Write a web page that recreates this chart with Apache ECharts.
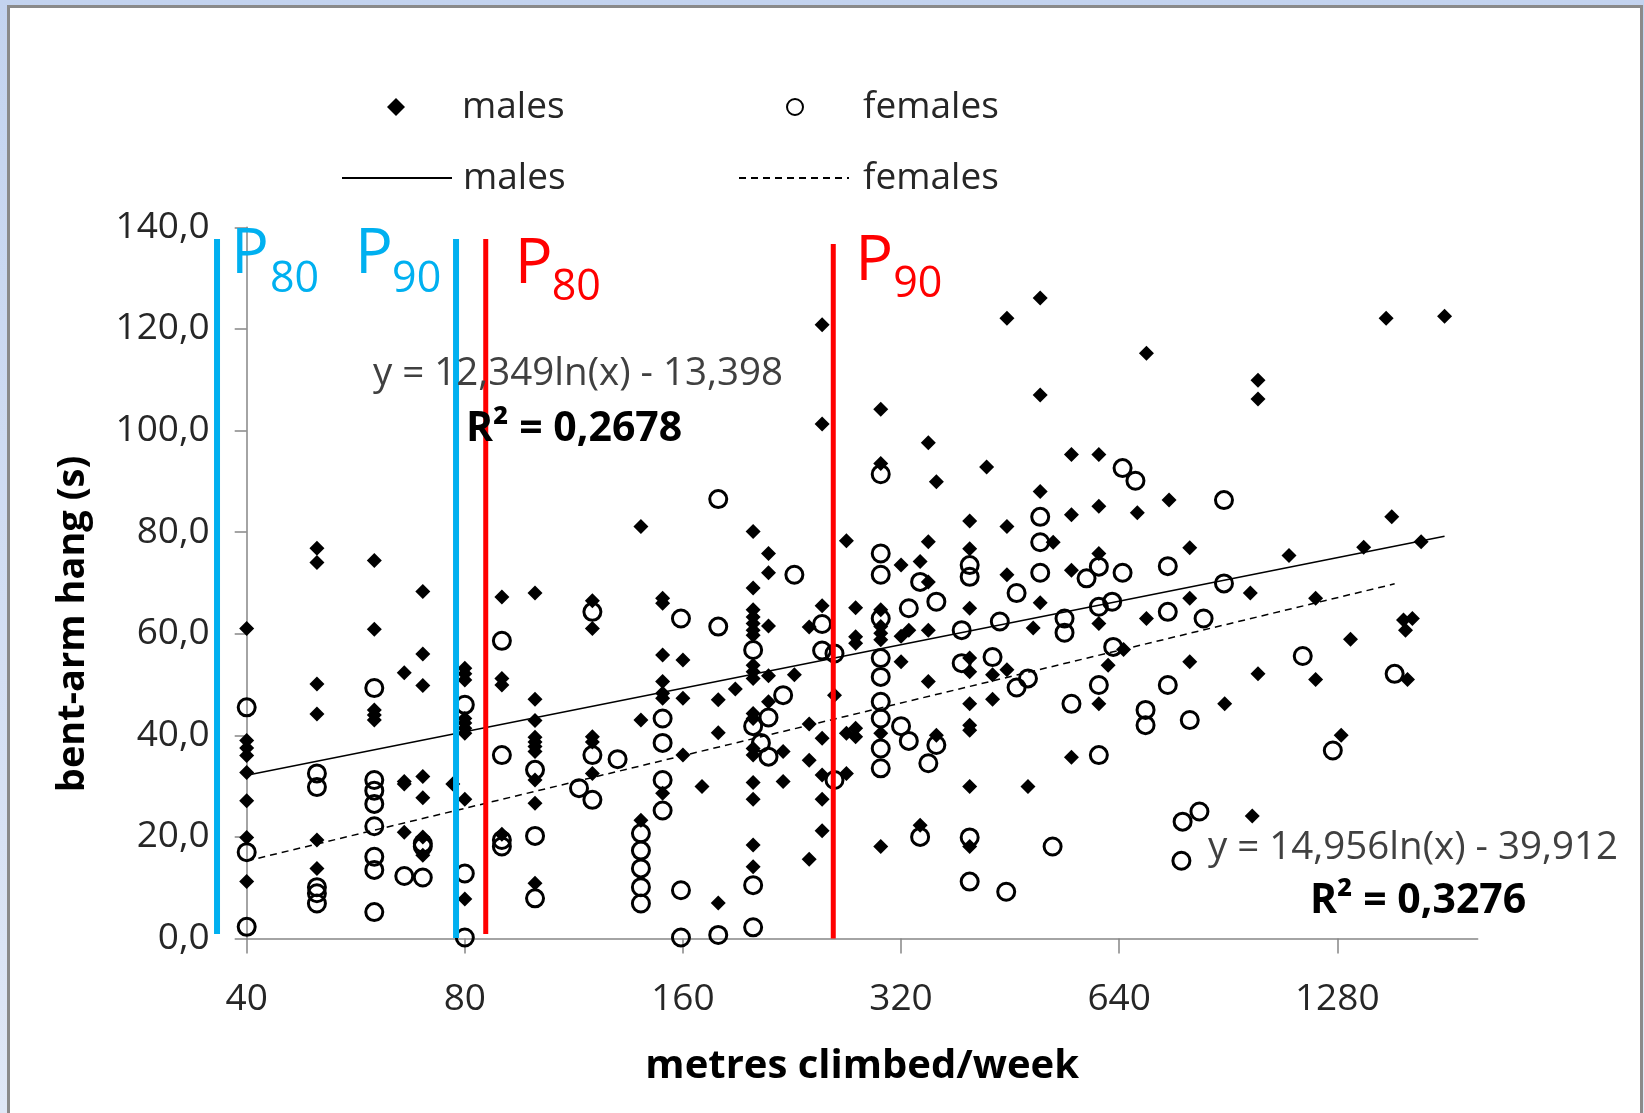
<!DOCTYPE html>
<html>
<head>
<meta charset="utf-8">
<title>bent-arm hang vs metres climbed</title>
<script src="https://cdn.jsdelivr.net/npm/echarts@6/dist/echarts.min.js"></script>
<style>
  html, body { margin: 0; padding: 0; width: 1644px; height: 1113px; overflow: hidden;
    background: linear-gradient(to bottom, #c3d3ef, #dfe7f6); }
  #frame { position: absolute; left: 7px; top: 5px; width: 1630px; height: 1130px;
    background: #fff; border: 3px solid #8a8a8a; border-bottom: none; }
  #main { position: absolute; left: 0; top: 0; width: 1644px; height: 1113px; }
</style>
</head>
<body>
<div id="frame"></div>
<div id="main"></div>
<script>
// metres climbed/week , bent-arm hang (s)
var males = [
  [40,61],[40,39],[40,37.5],[40,36],[40,32.7],[40,27.1],[40,19.9],[40,11.2],
  [50,76.8],[50,74],[50,50.1],[50,44.2],[50,19.4],[50,13.8],
  [60,74.4],[60,60.9],[60,45],[60,44],[60,43],
  [66,52.3],[66,30.9],[66,30.4],[66,20.9],
  [70,68.3],[70,56],[70,49.8],[70,31.9],[70,27.7],[70,20],[70,16.4],
  [77,30.4],
  [80,53.2],[80,52.1],[80,50.9],[80,43.3],[80,42.4],[80,41.4],[80,40.4],[80,27.4],[80,7.8],
  [90,67.2],[90,51.2],[90,49.9],[90,20.5],
  [100,68],[100,47.1],[100,42.9],[100,39.6],[100,38.7],[100,37.8],[100,36.8],[100,31.2],[100,26.6],[100,10.9],
  [120,66.5],[120,61],[120,39.7],[120,38.7],[120,32.5],
  [140,81.1],[140,43],[140,23.3],
  [150,67],[150,66],[150,55.8],[150,50.6],[150,48.3],[150,47.3],[150,28.6],
  [160,54.8],[160,47.3],[160,36.1],
  [170,29.9],
  [179,47],[179,40.5],[179,7],
  [189,49.1],
  [200,80.1],[200,69],[200,64.7],[200,63.3],[200,62],[200,60.7],[200,59.7],[200,53.8],[200,52.5],
  [200,51.2],[200,44.3],[200,43.3],[200,37.4],[200,36.1],[200,30.7],[200,27.4],[200,18.4],[200,14.1],
  [210,75.8],[210,72],[210,61.5],[210,51.7],[210,46.6],
  [220,36.8],[220,30.9],
  [228,51.9],
  [239,61.3],[239,42.2],[239,35.1],[239,15.6],
  [249,120.8],[249,101.3],[249,65.5],[249,39.4],[249,32.2],[249,27.4],[249,21.2],
  [259,47.9],
  [269,78.3],[269,40.4],[269,32.5],
  [277,65.1],[277,59.4],[277,58.1],[277,41.4],[277,39.7],
  [300,104.2],[300,93.5],[300,64.7],[300,61.4],[300,60.1],[300,58.8],[300,40.4],[300,18.1],
  [320,73.5],[320,59.5],[320,54.5],
  [328,60.7],
  [340,74.2],[340,22.3],
  [349,97.6],[349,78.1],[349,70.2],[349,60.7],[349,50.6],
  [358,89.9],[358,40],
  [398,82.2],[398,76.7],[398,65],[398,55.2],[398,52.5],[398,46.2],[398,42],[398,41],[398,29.9],[398,18.1],
  [420,92.8],
  [428,51.9],[428,47.1],
  [448,122.1],[448,81.1],[448,71.6],[448,52.9],
  [479,29.9],
  [487,61.1],
  [498,126.1],[498,107],[498,88],[498,66.1],
  [519,78],
  [550,95.3],[550,83.4],[550,72.5],[550,35.7],
  [600,95.3],[600,85.1],[600,75.8],[600,62],[600,46.2],
  [618,53.8],
  [649,56.9],
  [678,83.8],
  [698,115.2],[698,63],
  [750,86.3],
  [801,76.9],[801,67],[801,54.5],
  [895,46.2],
  [971,68],
  [977,24.1],
  [995,109.9],[995,106.2],[995,52.1],
  [1098,75.4],
  [1195,67],[1195,51],
  [1296,40],
  [1335,58.9],
  [1392,77],
  [1495,122.1],
  [1522,83],
  [1580,62.7],[1625,63],[1590,60.7],[1600,51],
  [1671,78.1],
  [1800,122.5]
];

var females = [
  [40,45.5],[40,17],[40,2.3],
  [50,32.5],[50,29.8],[50,10.1],[50,8.9],[50,6.9],
  [60,49.3],[60,31.2],[60,29.1],[60,26.5],[60,22.1],[60,16.1],[60,13.5],[60,5.2],
  [66,12.3],
  [70,18.7],[70,18.1],[70,12],
  [80,46],[80,12.8],[80,0.2],
  [90,58.6],[90,36.1],[90,19.4],[90,18.1],
  [100,33.2],[100,20.2],[100,7.9],
  [115,29.6],
  [120,64.3],[120,36.1],[120,27.3],
  [130,35.3],
  [140,20.7],[140,17.3],[140,13.8],[140,10.1],[140,6.9],
  [150,43.3],[150,38.5],[150,31.2],[150,25.2],
  [159,63],[159,9.5],[159,0.2],
  [179,86.5],[179,61.4],[179,0.7],
  [200,56.8],[200,41.8],[200,10.5],[200,2.2],
  [205,38.5],
  [210,43.5],[210,35.8],
  [220,47.9],
  [228,71.6],
  [249,61.9],[249,56.7],
  [259,56.1],[259,31.2],
  [300,91.4],[300,75.8],[300,71.6],[300,63],[300,55.2],[300,51.5],[300,46.6],[300,43.3],[300,37.4],[300,33.5],
  [320,41.8],
  [328,65],[328,38.9],
  [340,70.2],[340,20],
  [349,34.5],
  [358,66.3],[358,38.1],
  [388,60.7],[388,54.2],
  [398,73.5],[398,71.2],[398,19.9],[398,11.2],
  [428,55.4],
  [438,62.4],
  [447,9.2],
  [462,68],[462,49.4],
  [479,51.2],
  [498,83],[498,78],[498,72],
  [518,18.1],
  [538,63],[538,60.2],
  [550,46.2],
  [577,70.9],
  [600,73.2],[600,65.3],[600,49.9],[600,36.1],
  [626,66.3],
  [628,57.4],
  [647,92.6],[647,72],
  [674,90.1],
  [696,45],[696,42],
  [747,73.3],[747,64.3],[747,49.9],
  [780,15.3],[783,23],
  [801,43],
  [826,25],
  [837,63],
  [893,86.3],[893,69.9],
  [1147,55.6],
  [1262,37],
  [1536,52.1]
];

// tick labels on the log2 metres axis
var xTicks = [40, 80, 160, 320, 640, 1280];
var xMin = 40, xMax = 2000;

// trendlines as printed on the chart: y = a ln(x) + b
var maleFit = { a: 12.349, b: -13.398, from: 40, to: 1800 };
var femaleFit = { a: 14.956, b: -39.912, from: 40, to: 1536 };

// percentile markers (metres/week)
var pLines = [
  { sub: '80', metres: 36.4, from: 0.9, to: 137.7, color: '#00B0F0' },
  { sub: '90', metres: 77.8, from: 0.1, to: 137.7, color: '#00B0F0' },
  { sub: '80', metres: 85.5, from: 0.9, to: 137.7, color: '#FF0000' },
  { sub: '90', metres: 258,  from: 0,   to: 136.7, color: '#FF0000' }
];
// label placement relative to each marker line (px)
var pLabelPos = [
  { width: 6, dxP: 14,   dxS: 53,  yP: 255, yS: 280 },
  { width: 6, dxP: -101, dxS: -64, yP: 255, yS: 280 },
  { width: 5, dxP: 29,   dxS: 66,  yP: 265, yS: 288 },
  { width: 5, dxP: 22,   dxS: 60,  yP: 262, yS: 285 }
];

var eqTexts = [
  { text: 'y = 12,349ln(x) - 13,398', bold: false, size: 38.5, x: 373, y: 374 },
  { text: 'R² = 0,2678', bold: true, size: 41, x: 466, y: 429 },
  { text: 'y = 14,956ln(x) - 39,912', bold: false, size: 38.5, x: 1208, y: 848 },
  { text: 'R² = 0,3276', bold: true, size: 41, x: 1310, y: 901 }
];

var FONT = "'Open Sans', 'Noto Sans', sans-serif";

function tx(m) { return Math.log(m / xMin) / Math.LN2; }
function toPts(arr) { return arr.map(function (d) { return [tx(d[0]), d[1]]; }); }
function fitLine(f) {
  return [f.from, f.to].map(function (m) { return [tx(m), f.a * Math.log(m) + f.b]; });
}
function yFmt(v) { return v.toFixed(1).replace('.', ','); }

var axisGray = { color: '#868686', width: 1.5 };

var series = [
  {
    name: 'males-pts', type: 'scatter', data: toPts(males),
    symbol: 'diamond', symbolSize: 15, z: 3,
    itemStyle: { color: '#000', opacity: 1 }
  },
  {
    name: 'females-pts', type: 'scatter', data: toPts(females),
    symbol: 'circle', symbolSize: 17, z: 4,
    itemStyle: { color: 'rgba(0,0,0,0)', borderColor: '#000', borderWidth: 3, opacity: 1 }
  },
  {
    name: 'males-fit', type: 'line', data: fitLine(maleFit),
    symbol: 'none', z: 5, silent: true,
    itemStyle: { color: 'rgba(0,0,0,0)' },
    lineStyle: { color: '#000', width: 1.5 }
  },
  {
    name: 'females-fit', type: 'line', data: fitLine(femaleFit),
    symbol: 'none', z: 5, silent: true,
    itemStyle: { color: 'rgba(0,0,0,0)' },
    lineStyle: { color: '#000', width: 1.5, type: [7, 5] }
  }
];

function legendItem(name, left, top, w, h, textPad) {
  return {
    data: [name], left: left, top: top, padding: 0,
    itemWidth: w, itemHeight: h, selectedMode: false,
    formatter: function (n) { return n.split('-')[0]; },
    textStyle: { fontFamily: FONT, fontSize: 37, color: '#262626', padding: [0, 0, 0, textPad] }
  };
}

var option = {
  animation: false,
  grid: { left: 246.7, right: 166.3, top: 227.3, bottom: 174.5 },
  legend: [
    legendItem('males-pts', 387, 88.5, 18, 18, 52),
    legendItem('females-pts', 786, 88.5, 16, 16, 55),
    legendItem('males-fit', 341, 159.5, 110, 18, 6),
    legendItem('females-fit', 738, 159.5, 110, 18, 9)
  ],
  xAxis: {
    type: 'value', min: 0, max: tx(xMax),
    splitLine: { show: false },
    axisLine: { show: true, lineStyle: axisGray },
    axisTick: { show: true, length: 15, customValues: xTicks.map(tx), lineStyle: axisGray },
    axisLabel: {
      customValues: xTicks.map(tx), margin: 42,
      fontFamily: FONT, fontSize: 37, color: '#262626',
      formatter: function (v) { return String(Math.round(xMin * Math.pow(2, v))); }
    },
    name: 'metres climbed/week', nameLocation: 'middle', nameGap: 108,
    nameTextStyle: { fontFamily: FONT, fontSize: 40, fontWeight: 'bold', color: '#000' }
  },
  yAxis: {
    type: 'value', min: 0, max: 140, interval: 20,
    splitLine: { show: false },
    axisLine: { show: true, lineStyle: axisGray },
    axisTick: { show: true, length: 12, lineStyle: axisGray },
    axisLabel: { margin: 37, fontFamily: FONT, fontSize: 37, color: '#262626', formatter: yFmt },
    name: 'bent-arm hang (s)', nameLocation: 'middle', nameGap: 155,
    nameTextStyle: { fontFamily: FONT, fontSize: 38, fontWeight: 'bold', color: '#000',
      padding: [0, 82, 0, 0] }
  },
  series: series
};

var myChart = echarts.init(document.getElementById('main'), null, { renderer: 'canvas' });
myChart.setOption(option);

// percentile marker lines and labels, placed through the chart's own scales
var graphics = [];
pLines.forEach(function (p, i) {
  var pos = pLabelPos[i];
  var bottom = myChart.convertToPixel({ gridIndex: 0 }, [tx(p.metres), p.from]);
  var top = myChart.convertToPixel({ gridIndex: 0 }, [tx(p.metres), p.to]);
  graphics.push({
    type: 'line', z: 15, silent: true,
    shape: { x1: bottom[0], y1: bottom[1], x2: top[0], y2: top[1] },
    style: { stroke: p.color, lineWidth: pos.width }
  });
  graphics.push({
    type: 'text', x: top[0] + pos.dxP, y: pos.yP, z: 20,
    style: { text: 'P', fill: p.color, font: '63px ' + FONT,
      align: 'left', verticalAlign: 'middle', textAlign: 'left', textVerticalAlign: 'middle' }
  });
  graphics.push({
    type: 'text', x: top[0] + pos.dxS, y: pos.yS, z: 20,
    style: { text: p.sub, fill: p.color, font: '43px ' + FONT,
      align: 'left', verticalAlign: 'middle', textAlign: 'left', textVerticalAlign: 'middle' }
  });
});
eqTexts.forEach(function (t) {
  graphics.push({
    type: 'text', x: t.x, y: t.y, z: 20,
    style: { text: t.text, fill: t.bold ? '#000' : '#404040',
      font: (t.bold ? 'bold ' : '') + t.size + 'px ' + FONT,
      align: 'left', verticalAlign: 'middle', textAlign: 'left', textVerticalAlign: 'middle' }
  });
});
myChart.setOption({ graphic: graphics });
</script>
</body>
</html>
